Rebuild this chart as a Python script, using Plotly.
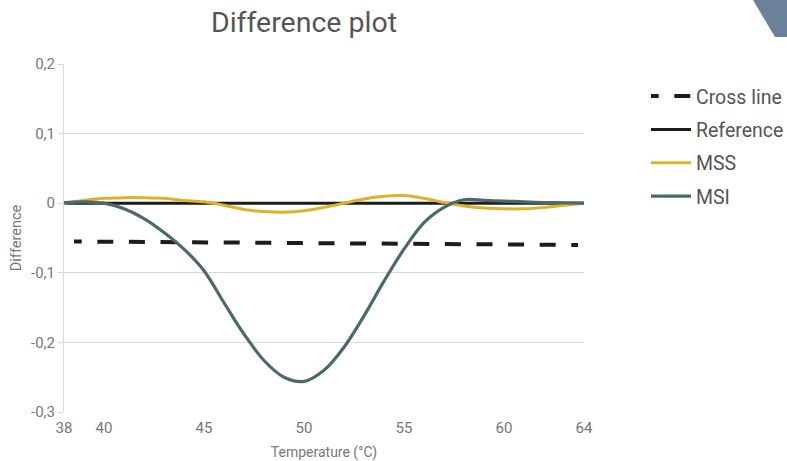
import plotly.graph_objects as go

temps = list(range(38, 65))
msi = [0.001, 0.002, 0.000, -0.008, -0.022, -0.042, -0.066, -0.097, -0.143, -0.188,
       -0.226, -0.250, -0.256, -0.240, -0.207, -0.162, -0.112, -0.066, -0.028, -0.006,
       0.005, 0.004, 0.003, 0.002, 0.001, 0.0005, 0.0]
mss = [0.0, 0.004, 0.007, 0.008, 0.008, 0.007, 0.004, 0.002, -0.003, -0.009,
       -0.012, -0.013, -0.011, -0.006, 0.0, 0.006, 0.010, 0.011, 0.007, 0.001,
       -0.004, -0.007, -0.008, -0.008, -0.006, -0.003, 0.0]
ref_x = [38, 64]
ref_y = [0, 0]
cross_x = [38.5, 63.7]
cross_y = [-0.055, -0.060]

x_ticks = [38, 40, 45, 50, 55, 60, 64]
y_ticks = [-0.3, -0.2, -0.1, 0, 0.1, 0.2]
y_tick_text = ["-0,3", "-0,2", "-0,1", "0", "0,1", "0,2"]

# dash pattern with a short leading dash (phase offset), then regular 16/15.6 dashes
cross_dash = "7.7px,15.6px," + ",".join(["16px,15.6px"] * 16)

FONT = "Roboto"
fig = go.Figure()
fig.add_trace(go.Scatter(x=cross_x, y=cross_y, mode="lines", name="Cross line",
                         legendgroup="a",
                         line=dict(color="#1c1c1c", width=4, dash=cross_dash)))
fig.add_trace(go.Scatter(x=ref_x, y=ref_y, mode="lines", name="Reference",
                         legendgroup="b",
                         line=dict(color="#1c1c1c", width=3)))
fig.add_trace(go.Scatter(x=temps, y=mss, mode="lines", name="MSS",
                         legendgroup="c",
                         line=dict(color="#deb12a", width=3, shape="spline", smoothing=1)))
fig.add_trace(go.Scatter(x=temps, y=msi, mode="lines", name="MSI",
                         legendgroup="d",
                         line=dict(color="#4c6a6b", width=3.2, shape="spline", smoothing=1)))

fig.update_layout(
    width=787, height=461,
    margin=dict(l=64, r=203, t=64, b=49),
    paper_bgcolor="white", plot_bgcolor="white",
    font=dict(family=FONT, color="#777777", size=15),
    title=dict(text="Difference plot", x=304/787, xref="container", xanchor="center",
               y=1-22/461, yref="container", yanchor="middle",
               font=dict(size=28.5, color="#555555", family=FONT)),
    legend=dict(x=646/787, xref="container", y=0.963, yref="paper",
                xanchor="left", yanchor="top",
                font=dict(size=19.5, color="#555555", family=FONT),
                tracegroupgap=5, itemwidth=40, bgcolor="rgba(0,0,0,0)"),
    showlegend=True,
    shapes=[dict(type="path", xref="paper", yref="paper",
                 path="M %f %f L %f %f L %f %f L %f %f Z" % (
                     (753-64)/520, (412-0)/348, (800-64)/520, (412-0)/348,
                     (800-64)/520, (412-37)/348, (775-64)/520, (412-37)/348),
                 fillcolor="#6b8199", line=dict(width=0), layer="above")],
)
fig.update_xaxes(range=[38, 64], tickvals=x_ticks, showgrid=False, zeroline=False,
                 showline=False, ticks="", automargin=False, ticklabelstandoff=5,
                 tickfont=dict(size=15, color="#777777"),
                 title=dict(text="Temperature (°C)", font=dict(size=14, color="#777777"),
                            standoff=13))
fig.update_yaxes(range=[-0.3, 0.2], tickvals=y_ticks, ticktext=y_tick_text,
                 showgrid=True, gridcolor="#d9d9d9", gridwidth=1, zeroline=False,
                 showline=True, linecolor="#d9d9d9", linewidth=1, automargin=False,
                 ticks="outside", ticklen=5, tickcolor="#d9d9d9",
                 tickfont=dict(size=15, color="#777777"),
                 title=dict(text="Difference", font=dict(size=14.5, color="#777777"),
                            standoff=5))

fig.write_html("out.html", config={"displayModeBar": False},
               post_script="document.body.style.margin='0px';")
